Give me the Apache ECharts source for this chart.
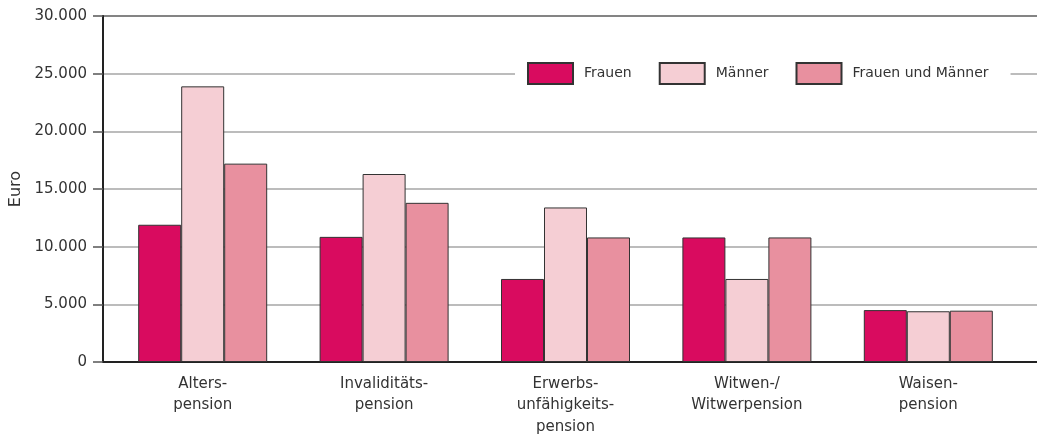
<!DOCTYPE html>
<html>
<head>
<meta charset="utf-8">
<script src="https://cdn.jsdelivr.net/npm/echarts@6/dist/echarts.min.js"></script>
<style>
  html, body { margin: 0; padding: 0; background: #fff; }
  #chart { width: 1037px; height: 434px; }
</style>
</head>
<body>
<div id="chart"></div>
<script>
const categories = ['Alters-\npension', 'Invaliditäts-\npension', 'Erwerbs-\nunfähigkeits-\npension', 'Witwen-/\nWitwerpension', 'Waisen-\npension'];
const frauen = [11900, 10850, 7200, 10800, 4500];
const maenner = [23900, 16300, 13400, 7200, 4400];
const beide = [17200, 13800, 10800, 10800, 4450];
const seriesNames = ['Frauen', 'Männer', 'Frauen und Männer'];
const yTicks = { min: 0, max: 30000, interval: 5000 };

const FONT = 'DejaVu Sans';
const TXT = '#333';

const fmt = (v) => String(v).replace(/\B(?=(\d{3})+(?!\d))/g, '.');

const chart = echarts.init(document.getElementById('chart'), null, { renderer: 'canvas' });

const barStyle = (color) => ({ color: color, borderColor: '#333', borderWidth: 1 });

chart.setOption({
  animation: false,
  textStyle: { fontFamily: FONT, color: TXT },
  legend: {
    left: 515,
    top: 59,
    padding: [3, 22, 3, 12],
    backgroundColor: '#fff',
    itemWidth: 45,
    itemHeight: 21,
    itemGap: 27,
    icon: 'rect',
    data: seriesNames,
    textStyle: { fontFamily: FONT, fontSize: 14, color: TXT, padding: [0, 0, 0, 6] }
  },
  grid: [
    // frame, ticks and grid lines (right edge pushed off the canvas)
    { left: 103, top: 16, right: -8, bottom: 72, outerBoundsMode: 'none', show: true, borderColor: '#222', borderWidth: 2 },
    // bars
    { left: 112, top: 16, right: 18, bottom: 72, outerBoundsMode: 'none' }
  ],
  xAxis: [
    {
      gridIndex: 0, type: 'value', min: 0, max: 1,
      axisLine: { show: true, lineStyle: { color: '#222', width: 2 } },
      axisTick: { show: false }, axisLabel: { show: false }, splitLine: { show: false }
    },
    {
      gridIndex: 1, type: 'category', data: categories,
      axisLine: { show: false }, axisTick: { show: false },
      axisLabel: { fontFamily: FONT, fontSize: 15, color: TXT, lineHeight: 21.5, margin: 11 }
    }
  ],
  yAxis: [
    {
      gridIndex: 0, type: 'value', min: yTicks.min, max: yTicks.max, interval: yTicks.interval,
      name: 'Euro', nameLocation: 'middle', nameRotate: 90, nameGap: 77,
      nameTextStyle: { fontFamily: FONT, fontSize: 16, color: TXT },
      axisLine: { show: true, lineStyle: { color: '#222', width: 2 } },
      axisTick: { show: true, length: 10, lineStyle: { color: '#555', width: 1.5 } },
      axisLabel: { fontFamily: FONT, fontSize: 15, color: TXT, margin: 16, formatter: fmt },
      splitLine: { show: true, lineStyle: { color: '#a6a6a6', width: 1.5 } }
    },
    {
      gridIndex: 1, type: 'value', min: yTicks.min, max: yTicks.max, show: false
    }
  ],
  series: [
    { name: seriesNames[0], type: 'bar', xAxisIndex: 1, yAxisIndex: 1, data: frauen, barWidth: 43, barGap: '0%', itemStyle: barStyle('#d90b5f') },
    { name: seriesNames[1], type: 'bar', xAxisIndex: 1, yAxisIndex: 1, data: maenner, barWidth: 43, barGap: '0%', itemStyle: barStyle('#f5ced4') },
    { name: seriesNames[2], type: 'bar', xAxisIndex: 1, yAxisIndex: 1, data: beide, barWidth: 43, barGap: '0%', itemStyle: barStyle('#e8909f') }
  ]
});
</script>
</body>
</html>
